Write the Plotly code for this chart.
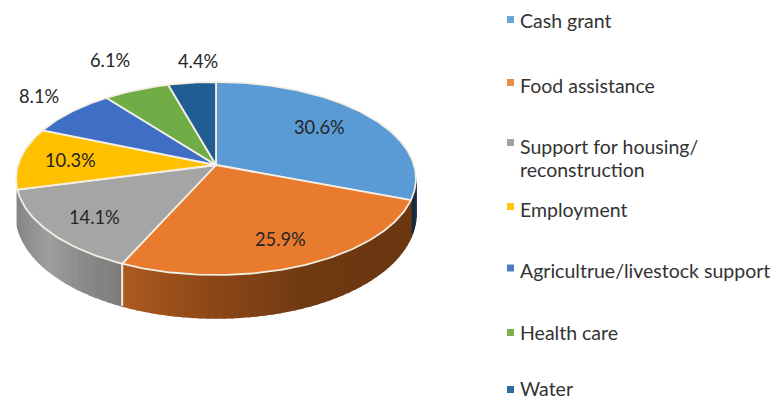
import math
import plotly.graph_objects as go

categories = ["Cash grant", "Food assistance", "Support for housing/<br>reconstruction",
              "Employment", "Agricultrue/livestock support", "Health care", "Water"]
values = [30.6, 25.9, 14.1, 10.3, 8.1, 6.1, 4.4]
value_labels = ["30.6%", "25.9%", "14.1%", "10.3%", "8.1%", "6.1%", "4.4%"]

colors = ["#5b9bd5", "#e97b2e", "#a5a5a5", "#ffc000", "#3f6fc4", "#70ad47", "#215c93"]
legend_colors = ["#6aa6d8", "#e98d45", "#a2a2a2", "#ffc60a", "#4d7cc4", "#78b053", "#2b6c9b"]

# Style / layout (pixel space)
CX, CY, A, B, S = 216, 165, 198, 94.6, 0.14
BORDER = "#f3efe4"
WALLS = {
    0: ["#1e3550", "#16283c"],
    1: ["#6c3711", "#6c3710", "#703a12", "#8d4716", "#ad5a20"],
    2: ["#7c7c7c", "#8b8b8b", "#9f9f9f", "#8f8f8f", "#858585"],
}
LABEL_POS = [(319, 127), (280, 239), (94, 217), (70, 160), (39, 96), (110, 60), (198, 61)]
LEGEND_MARK_Y = [19.5, 82.5, 142.5, 206.5, 268, 332.5, 389.5]
LEGEND_TEXT_Y = [20, 85, 146, 209, 270, 332, 388]
LINE_STEP = 23.5
FONT = "Lato"


def project(theta_deg, f=1.0):
    t = math.radians(theta_deg)
    u, v = f * math.sin(t), f * math.cos(t)
    w = 1 + S * v
    return CX + A * u / w, CY - B * v / w


def depth(theta_deg):
    return 34 + 9 * max(0, -math.cos(math.radians(theta_deg)))


def mix(stops, p):
    p = max(0, min(1, p)) * (len(stops) - 1)
    i = min(int(p), len(stops) - 2)
    k = p - i
    a, b = stops[i], stops[i + 1]
    ch = [round(int(a[j:j + 2], 16) * (1 - k) + int(b[j:j + 2], 16) * k) for j in (1, 3, 5)]
    return "#%02x%02x%02x" % tuple(ch)


total = sum(values)
edges = [0.0]
for val in values:
    edges.append(edges[-1] + val / total * 360)

fig = go.Figure()

# Side walls, drawn as thin strips so they can carry a gradient
WALL_START, WALL_END = 98, edges[3]
for i, stops in WALLS.items():
    a0, a1 = max(edges[i], WALL_START), min(edges[i + 1], WALL_END)
    n = max(2, int((a1 - a0) / 2))
    for k in range(n):
        t0 = a0 + (a1 - a0) * k / n
        t1 = a0 + (a1 - a0) * (k + 1) / n
        x0, y0 = project(t0)
        x1, y1 = project(t1)
        c = mix(stops, (k + 0.5) / n)
        fig.add_trace(go.Scatter(
            x=[x0, x1, x1, x0, x0],
            y=[y0, y1, y1 + depth(t1), y0 + depth(t0), y0],
            mode="lines", fill="toself", fillcolor=c,
            line=dict(color=c, width=1.6), hoverinfo="skip", showlegend=False))

# Seam between the orange and grey walls
sx, sy = project(edges[2])
fig.add_trace(go.Scatter(x=[sx, sx], y=[sy, sy + depth(edges[2])], mode="lines",
                         line=dict(color=BORDER, width=2), hoverinfo="skip", showlegend=False))

# Top face
for i, name in enumerate(categories):
    a0, a1 = edges[i], edges[i + 1]
    n = max(4, int(a1 - a0))
    pts = [project(a0 + (a1 - a0) * k / n) for k in range(n + 1)]
    xs = [CX] + [p[0] for p in pts] + [CX]
    ys = [CY] + [p[1] for p in pts] + [CY]
    fig.add_trace(go.Scatter(
        x=xs, y=ys, mode="lines", fill="toself", fillcolor=colors[i],
        line=dict(color=BORDER, width=1.8), name=name.replace("<br>", " "),
        text=f"{name.replace('<br>', ' ')}: {value_labels[i]}", hoverinfo="text", showlegend=False))

# Hand-placed legend (uneven spacing in the original)
fig.add_trace(go.Scatter(
    x=[510.5] * len(categories), y=LEGEND_MARK_Y, mode="markers",
    marker=dict(symbol="square", size=7, color=legend_colors, line=dict(width=0)),
    hoverinfo="skip", showlegend=False))

ann = []
for (x, y), label in zip(LABEL_POS, value_labels):
    ann.append(dict(x=x, y=y, text=label, showarrow=False, xanchor="center", yanchor="middle",
                    font=dict(family=FONT, size=18.3, color="#262626")))
for y, name in zip(LEGEND_TEXT_Y, categories):
    for j, line in enumerate(name.split("<br>")):
        ann.append(dict(x=517.5, y=y + j * LINE_STEP, text=line, showarrow=False,
                        xanchor="left", yanchor="middle", align="left",
                        font=dict(family=FONT, size=19.5, color="#333333")))

fig.update_layout(
    width=775, height=402, margin=dict(l=0, r=0, t=0, b=0),
    paper_bgcolor="white", plot_bgcolor="white", annotations=ann, showlegend=False,
    xaxis=dict(range=[0, 775], visible=False, fixedrange=True),
    yaxis=dict(range=[402, 0], visible=False, fixedrange=True),
)
fig.write_html("out.html", config=dict(displayModeBar=False),
               post_script="document.documentElement.style.overflow='hidden';document.body.style.margin='0';")
